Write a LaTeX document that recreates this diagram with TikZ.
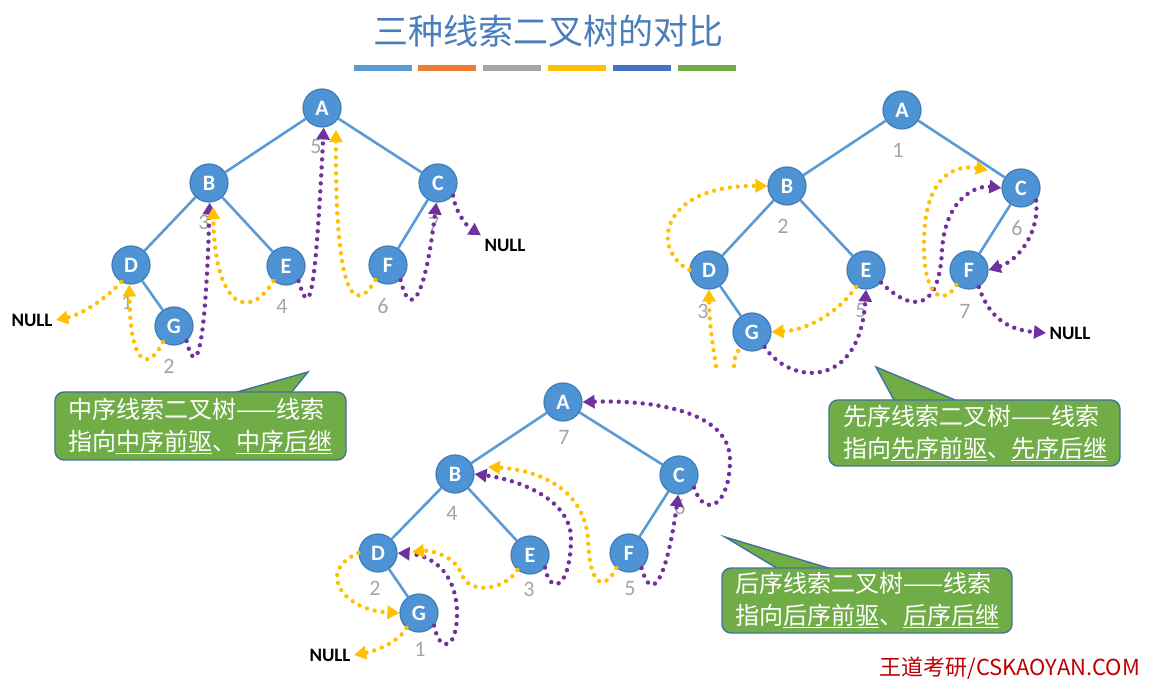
\documentclass[tikz,border=0pt]{standalone}
\usepackage{fontspec}
\setmainfont{Carlito}
\newfontfamily\cjk{Noto Sans CJK SC}
\usetikzlibrary{arrows.meta}
\definecolor{nodeblue}{HTML}{4E94D4}
\definecolor{nodeedge}{HTML}{3F7CB8}
\definecolor{edgeblue}{HTML}{5B9BD5}
\definecolor{thor}{HTML}{FFC000}
\definecolor{thpu}{HTML}{7030A0}
\definecolor{cgreen}{HTML}{70AD47}
\definecolor{cedge}{HTML}{41719C}
\definecolor{numgray}{HTML}{A5A5A5}
\tikzset{
  tn/.style={circle,fill=nodeblue,draw=nodeedge,line width=1.2pt,minimum size=38pt,inner sep=0pt,text=white,font=\fontsize{22}{22}\selectfont\bfseries},
  te/.style={draw=edgeblue,line width=2.6pt},
  num/.style={text=numgray,font=\fontsize{22}{22}\selectfont},
  nul/.style={font=\fontsize{19}{19}\selectfont\bfseries},
  th/.style={line width=4.4pt,dash pattern=on 0pt off 8pt,line cap=round,-{Triangle[length=12pt,width=13pt]}},
  po/.style={th,draw=thor,thor},
  pp/.style={th,draw=thpu,thpu},
  box/.style={rounded corners=9pt,fill=cgreen,draw=cedge,line width=1.4pt},
  btext/.style={text=white,align=left,font=\cjk\fontsize{24}{32}\selectfont}
}
\newcommand{\wul}[1]{\underline{#1}}
\begin{document}
\begin{tikzpicture}[x=1pt,y=-1pt]
\useasboundingbox (0,0) rectangle (1149,684);
\fill[white] (0,0) rectangle (1149,684);
% title
\node[text={rgb,255:red,74;green,126;blue,187},font=\cjk\fontsize{35}{35}\selectfont] (title) at (548,31) {三种线索二叉树的对比};
\foreach \x/\c in {354/5B9BD5,418/ED7D31,483/A5A5A5,548/FFC000,613/4472C4,678/70AD47}{
  \definecolor{bc}{HTML}{\c}
  \fill[bc] (\x,65) rectangle ++(58,6);
}
% ===== left tree (inorder)
\node[tn] (lA) at (322,108) {A};
\node[tn] (lB) at (209,183) {B};
\node[tn] (lC) at (438,183) {C};
\node[tn] (lD) at (131,265) {D};
\node[tn] (lE) at (286,266) {E};
\node[tn] (lF) at (388,265) {F};
\node[tn] (lG) at (174,326) {G};
\draw[te] (lA)--(lB) (lA)--(lC) (lB)--(lD) (lB)--(lE) (lC)--(lF) (lD)--(lG);
\node[num] at (127,302) {1};
\node[num] at (169,366) {2};
\node[num] at (204,222) {3};
\node[num] at (282,306) {4};
\node[num] at (316,147) {5};
\node[num] at (383,306) {6};
\node[num] at (434,224) {7};
\node[nul] (lN1) at (32,320) {NULL};
\node[nul] (lN2) at (505,245) {NULL};
\draw[po] (lD.240) .. controls (105,300) and (80,315) .. (lN1.east);
\draw[po] (lG.235) .. controls (150,370) and (130,370) .. (lD.265);
\draw[pp] (lG.310) .. controls (195,375) and (205,365) .. (lB.272);
\draw[po] (lE.230) .. controls (250,320) and (215,310) .. (213,207);
\draw[pp] (lE.310) .. controls (310,320) and (315,300) .. (lA.275);
\draw[po] (lF.230) .. controls (355,315) and (335,300) .. (336,130);
\draw[pp] (lF.310) .. controls (410,320) and (425,300) .. (lC.265);
\draw[pp] (lC.320) .. controls (455,210) and (465,225) .. (lN2.north west);
% ===== right tree (preorder)
\node[tn] (rA) at (902,110) {A};
\node[tn] (rB) at (787,186) {B};
\node[tn] (rC) at (1021,188) {C};
\node[tn] (rD) at (709,270) {D};
\node[tn] (rE) at (866,270) {E};
\node[tn] (rF) at (969,270) {F};
\node[tn] (rG) at (752,332) {G};
\draw[te] (rA)--(rB) (rA)--(rC) (rB)--(rD) (rB)--(rE) (rC)--(rF) (rD)--(rG);
\node[num] at (898,150) {1};
\node[num] at (783,226) {2};
\node[num] at (703,311) {3};
\node[num] at (861,311) {5};
\node[num] at (1017,228) {6};
\node[num] at (965,311) {7};
\node[nul] (rN) at (1070,333) {NULL};
\coordinate (rd1) at (716,366);
\coordinate (rd2) at (734,366);
\draw[po] (rD.180) .. controls (650,250) and (660,185) .. (rB.180);
\draw[po] (rd1) .. controls (712,340) and (709,320) .. (rD.270);
\draw[po,-] (rd2) .. controls (735,355) and (736,350) .. (rG.240);
\draw[pp] (rG.310) .. controls (790,385) and (860,390) .. (rE.270);
\draw[po] (rE.240) .. controls (840,310) and (810,330) .. (rG.east);
\draw[pp] (rE.320) .. controls (920,320) and (940,300) .. (942,250) .. controls (945,200) and (975,185) .. (rC.180);
\draw[po] (rF.230) .. controls (945,305) and (925,300) .. (924,250) .. controls (922,170) and (960,165) .. (988,170);
\draw[pp] (rC.320) .. controls (1040,230) and (1020,260) .. (rF.0);
\draw[pp] (rF.300) .. controls (990,320) and (1010,330) .. (rN.west);
% ===== bottom tree (postorder)
\node[tn] (bA) at (563,402) {A};
\node[tn] (bB) at (455,474) {B};
\node[tn] (bC) at (679,475) {C};
\node[tn] (bD) at (378,553) {D};
\node[tn] (bE) at (530,555) {E};
\node[tn] (bF) at (629,553) {F};
\node[tn] (bG) at (419,613) {G};
\draw[te] (bA)--(bB) (bA)--(bC) (bB)--(bD) (bB)--(bE) (bC)--(bF) (bD)--(bG);
\node[num] at (564,437) {7};
\node[num] at (452,513) {4};
\node[num] at (529,589) {3};
\node[num] at (630,589) {5};
\node[num] at (680,507) {6};
\node[num] at (375,588) {2};
\node[num] at (420,649) {1};
\node[nul] (bN) at (330,655) {NULL};
\draw[po] (bG.230) .. controls (400,640) and (380,650) .. (bN.east);
\draw[pp] (bG.320) .. controls (440,655) and (458,650) .. (457,610) .. controls (455,570) and (430,555) .. (bD.0);
\draw[po] (bD.180) .. controls (330,565) and (335,585) .. (345,595) .. controls (360,610) and (380,612) .. (bG.180);
\draw[po] (bE.230) .. controls (505,590) and (470,595) .. (462,575) .. controls (455,555) and (430,550) .. (412,552);
\draw[pp] (bE.320) .. controls (550,595) and (570,590) .. (571,540) .. controls (572,500) and (520,480) .. (bB.0);
\draw[po] (bF.230) .. controls (605,590) and (590,590) .. (588,540) .. controls (585,490) and (540,470) .. (488,467);
\draw[pp] (bF.310) .. controls (650,600) and (665,590) .. (bC.268);
\draw[pp] (bC.320) .. controls (705,520) and (730,505) .. (730,460) .. controls (730,410) and (650,400) .. (bA.0);
% ===== callouts
\fill[cgreen] (230,394) -- (308,372) -- (290,394) -- cycle;
\draw[cedge,line width=1.4pt] (230,394) -- (308,372) -- (290,394);
\draw[box] (55,392) rectangle (346,460);
\node[btext] (t1) at (200,426) {中序线索二叉树——线索\\指向\wul{中序前驱}、\wul{中序后继}};
\fill[cgreen] (876,367) -- (895,402) -- (960,402) -- cycle;
\draw[cedge,line width=1.4pt] (895,402) -- (876,367) -- (960,402);
\draw[box] (829,400) rectangle (1120,466);
\node[btext] (t2) at (975,433) {先序线索二叉树——线索\\指向\wul{先序前驱}、\wul{先序后继}};
\fill[cgreen] (725,537) -- (780,570) -- (835,570) -- cycle;
\draw[cedge,line width=1.4pt] (780,570) -- (725,537) -- (835,570);
\draw[box] (722,568) rectangle (1012,633);
\node[btext] (t3) at (867,600) {后序线索二叉树——线索\\指向\wul{后序前驱}、\wul{后序后继}};
% footer
\node[text={rgb,255:red,192;green,0;blue,0},font=\cjk\fontsize{22}{22}\selectfont] (foot) at (1010,668) {王道考研/CSKAOYAN.COM};
\end{tikzpicture}
\end{document}
